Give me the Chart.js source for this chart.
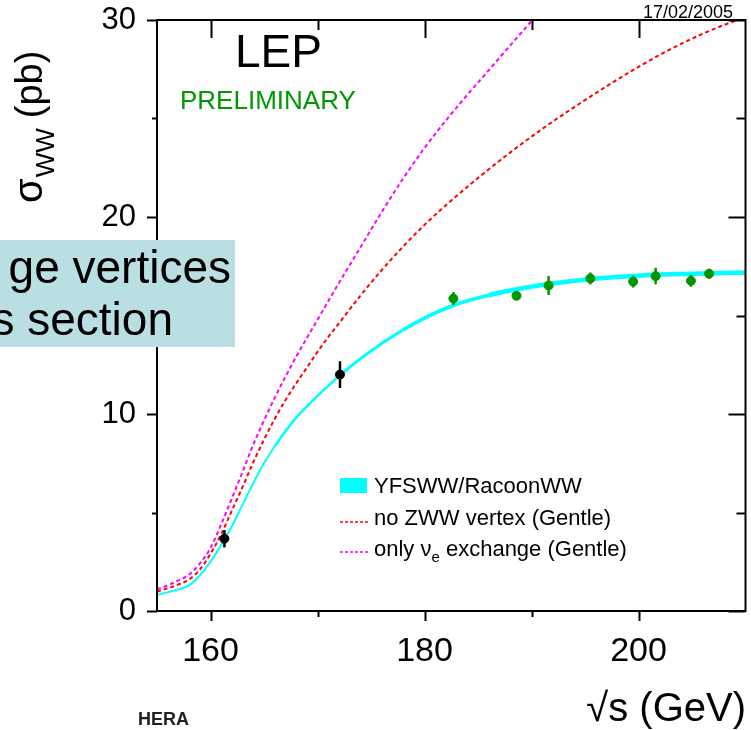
<!DOCTYPE html>
<html lang="en">
<head>
<meta charset="UTF-8">
<title>LEP WW cross section</title>
<script src="https://cdn.jsdelivr.net/npm/chart.js"></script>
<style>
  body { margin: 0; background: #fff; }
  canvas { display: block; }
</style>
</head>
<body>
<canvas id="wwChart" width="751" height="730"></canvas>
<script>
// theory curves (sqrt(s) in GeV, sigma in pb)
const yfsX = [155, 156, 157, 158, 159, 160, 161, 162, 163, 164, 165, 166, 167, 168, 169, 170, 171, 172, 174, 176, 178, 180, 183, 186, 189, 192, 195, 198, 201, 204, 207, 210];
const yfsY = [0.81, 0.95, 1.1, 1.3, 1.8, 2.5, 3.35, 4.3, 5.4, 6.5, 7.5, 8.35, 9.12, 9.8, 10.38, 10.92, 11.43, 11.92, 12.8, 13.58, 14.27, 14.87, 15.57, 16.03, 16.37, 16.62, 16.81, 16.95, 17.05, 17.11, 17.15, 17.18];

const noZwwX = [155, 156, 157, 158, 159, 160, 161, 162, 163, 164, 165, 166, 167, 168, 169, 170, 171, 172, 174, 176, 178, 180, 182, 185, 188, 191, 194, 197, 200, 203, 206, 208, 210];
const noZwwY = [0.98, 1.15, 1.35, 1.6, 2.1, 2.9, 3.9, 5.1, 6.3, 7.55, 8.7, 9.75, 10.7, 11.55, 12.35, 13.15, 13.9, 14.6, 16.0, 17.3, 18.5, 19.6, 20.6, 21.98, 23.27, 24.47, 25.58, 26.63, 27.62, 28.52, 29.3, 29.75, 30.15];

const nueX = [155, 156, 157, 158, 159, 160, 161, 162, 163, 164, 165, 166, 167, 168, 169, 170, 171, 172, 174, 176, 178, 180, 182, 184, 186, 188, 190, 192];
const nueY = [1.1, 1.3, 1.55, 1.85, 2.4, 3.2, 4.4, 5.72, 7.07, 8.45, 9.67, 10.82, 11.89, 12.9, 13.85, 14.78, 15.72, 16.65, 18.45, 20.25, 21.95, 23.5, 24.9, 26.2, 27.45, 28.7, 29.95, 31.2];

// measurements
const lepX = [182.7, 188.6, 191.6, 195.5, 199.5, 201.6, 204.9, 206.6];
const lepY = [15.86, 16.0, 16.52, 16.88, 16.72, 17.0, 16.76, 17.12];
const lepErr = [0.33, 0.15, 0.48, 0.3, 0.3, 0.42, 0.3, 0.25];
const oldX = [161.3, 172.1];
const oldY = [3.67, 12.0];
const oldErr = [0.44, 0.68];

const xTicks = [160, 180, 200];
const xMinor = [170, 190];
const yTicks = [0, 10, 20, 30];
const yMinor = [5, 15, 25];

const FONT = '"Liberation Sans", Arial, Helvetica, sans-serif';

function pts(xs, ys) {
    return xs.map((x, i) => ({ x: x, y: ys[i] }));
}

// YFSWW band gets wider with energy
function bandWidth(x) {
    if (x < 166) return 2;
    if (x < 172) return 2.5;
    if (x < 178) return 3;
    if (x < 185) return 3.7;
    return 4.5;
}

// error bars, frame, mirrored ticks and all the free text
const decor = {
    id: 'decor',
    afterDatasetsDraw(chart) {
        const ctx = chart.ctx;
        const xs = chart.scales.x, ys = chart.scales.y;
        ctx.save();
        ctx.lineWidth = 2.5;
        function bars(xv, yv, ev, col) {
            ctx.strokeStyle = col;
            xv.forEach((x, i) => {
                const px = xs.getPixelForValue(x);
                ctx.beginPath();
                ctx.moveTo(px, ys.getPixelForValue(yv[i] - ev[i]));
                ctx.lineTo(px, ys.getPixelForValue(yv[i] + ev[i]));
                ctx.stroke();
            });
        }
        bars(lepX, lepY, lepErr, '#009600');
        bars(oldX, oldY, oldErr, '#000');
        ctx.restore();
    },
    afterDraw(chart) {
        const ctx = chart.ctx;
        const a = chart.chartArea;
        const xs = chart.scales.x, ys = chart.scales.y;
        ctx.save();
        ctx.strokeStyle = '#000';
        ctx.lineWidth = 2;
        ctx.strokeRect(a.left, a.top, a.right - a.left, a.bottom - a.top);

        function xt(v, lenOut, lenIn) {
            const p = Math.round(xs.getPixelForValue(v)) + 0.5;
            ctx.beginPath();
            ctx.moveTo(p, a.bottom); ctx.lineTo(p, a.bottom + lenOut);
            ctx.moveTo(p, a.top); ctx.lineTo(p, a.top + lenIn);
            ctx.stroke();
        }
        function yt(v, lenOut, lenIn) {
            const p = Math.round(ys.getPixelForValue(v)) + 0.5;
            ctx.beginPath();
            ctx.moveTo(a.left, p); ctx.lineTo(a.left - lenOut, p);
            ctx.moveTo(a.right, p); ctx.lineTo(a.right - lenIn, p);
            ctx.stroke();
        }
        xTicks.forEach(v => xt(v, 10, 18));
        xMinor.forEach(v => xt(v, 6, 10));
        yTicks.forEach(v => yt(v, 10, 17));
        yMinor.forEach(v => yt(v, 5, 9));

        // titles inside the frame
        ctx.fillStyle = '#000';
        ctx.textAlign = 'left';
        ctx.textBaseline = 'alphabetic';
        ctx.font = '46px ' + FONT;
        ctx.fillText('LEP', 235, 67);
        ctx.fillStyle = '#009900';
        ctx.font = '26px ' + FONT;
        ctx.fillText('PRELIMINARY', 180, 109);
        ctx.fillStyle = '#000';
        ctx.font = '18px ' + FONT;
        ctx.textAlign = 'right';
        ctx.fillText('17/02/2005', 733, 18);

        // legend
        ctx.textAlign = 'left';
        ctx.fillStyle = '#00ffff';
        ctx.fillRect(340, 478, 27, 15);
        ctx.lineWidth = 1.5;
        ctx.setLineDash([3, 2]);
        ctx.strokeStyle = '#ff0000';
        ctx.beginPath(); ctx.moveTo(340, 522); ctx.lineTo(368, 522); ctx.stroke();
        ctx.strokeStyle = '#ff00ff';
        ctx.beginPath(); ctx.moveTo(340, 552); ctx.lineTo(368, 552); ctx.stroke();
        ctx.setLineDash([]);
        ctx.fillStyle = '#000';
        ctx.font = '22px ' + FONT;
        ctx.fillText('YFSWW/RacoonWW', 374, 493);
        ctx.fillText('no ZWW vertex (Gentle)', 374, 525);
        let tx = 374;
        ctx.fillText('only \u03bd', tx, 556);
        tx += ctx.measureText('only \u03bd').width;
        ctx.font = '15px ' + FONT;
        ctx.fillText('e', tx, 562);
        tx += ctx.measureText('e').width;
        ctx.font = '22px ' + FONT;
        ctx.fillText(' exchange (Gentle)', tx, 556);

        // axis titles
        ctx.font = '40px ' + FONT;
        ctx.textAlign = 'right';
        ctx.fillText('\u221as (GeV)', 746, 721);
        ctx.save();
        ctx.translate(42, 203);
        ctx.rotate(-Math.PI / 2);
        ctx.textAlign = 'left';
        ctx.font = '40px ' + FONT;
        ctx.fillText('\u03c3', 0, 0);
        let ty = ctx.measureText('\u03c3').width + 1;
        ctx.font = '26px ' + FONT;
        ctx.fillText('WW', ty, 12);
        ty += ctx.measureText('WW').width + 10;
        ctx.font = '38px ' + FONT;
        ctx.fillText('(pb)', ty, 0);
        ctx.restore();

        // pasted slide box over the left edge
        ctx.fillStyle = '#badfe3';
        ctx.fillRect(0, 240, 235, 107);
        ctx.fillStyle = '#000';
        ctx.font = '46px ' + FONT;
        ctx.textAlign = 'right';
        ctx.fillText('ge vertices', 231, 283);
        ctx.fillText('s section', 173, 335);

        ctx.textAlign = 'left';
        ctx.fillStyle = '#222';
        ctx.font = 'bold 18px ' + FONT;
        ctx.fillText('HERA', 138, 725);
        ctx.restore();
    }
};

new Chart(document.getElementById('wwChart'), {
    type: 'scatter',
    data: {
        datasets: [
            {
                label: 'LEP 183-207',
                data: pts(lepX, lepY),
                backgroundColor: '#009600',
                borderColor: '#009600',
                pointRadius: 4.5,
                pointHoverRadius: 4.5
            },
            {
                label: 'LEP 161-172',
                data: pts(oldX, oldY),
                backgroundColor: '#000',
                borderColor: '#000',
                pointRadius: 4.5,
                pointHoverRadius: 4.5
            },
            {
                label: 'only nu_e exchange (Gentle)',
                data: pts(nueX, nueY),
                showLine: true,
                borderColor: '#ff00ff',
                borderWidth: 2,
                borderDash: [4, 3],
                pointRadius: 0,
                cubicInterpolationMode: 'monotone'
            },
            {
                label: 'no ZWW vertex (Gentle)',
                data: pts(noZwwX, noZwwY),
                showLine: true,
                borderColor: '#ff0000',
                borderWidth: 2,
                borderDash: [4, 3],
                pointRadius: 0,
                cubicInterpolationMode: 'monotone'
            },
            {
                label: 'YFSWW/RacoonWW',
                data: pts(yfsX, yfsY),
                showLine: true,
                borderColor: '#00ffff',
                borderWidth: 3,
                segment: {
                    borderWidth: c => bandWidth(c.p0.parsed.x)
                },
                pointRadius: 0,
                cubicInterpolationMode: 'monotone'
            }
        ]
    },
    options: {
        responsive: false,
        animation: false,
        layout: { padding: { top: 20, right: 0, left: 0, bottom: 0 } },
        plugins: {
            legend: { display: false },
            tooltip: { enabled: false }
        },
        scales: {
            x: {
                type: 'linear',
                min: 155,
                max: 210,
                afterBuildTicks: s => { s.ticks = xTicks.map(v => ({ value: v })); },
                afterFit: s => {
                    s.height = 119;
                    s.paddingLeft = 0;
                    s.paddingRight = 0;
                },
                grid: { display: false, drawTicks: false },
                border: { display: false },
                ticks: {
                    color: '#000',
                    font: { family: FONT, size: 34 },
                    padding: 20,
                    maxRotation: 0,
                    autoSkip: false
                }
            },
            y: {
                min: 0,
                max: 30,
                afterBuildTicks: s => { s.ticks = yTicks.map(v => ({ value: v })); },
                afterFit: s => {
                    s.width = 157;
                    s.paddingTop = 0;
                    s.paddingBottom = 0;
                },
                grid: { display: false, drawTicks: false },
                border: { display: false },
                ticks: {
                    color: '#000',
                    font: { family: FONT, size: 31 },
                    padding: 21,
                    autoSkip: false
                }
            }
        }
    },
    plugins: [decor]
});
</script>
</body>
</html>
